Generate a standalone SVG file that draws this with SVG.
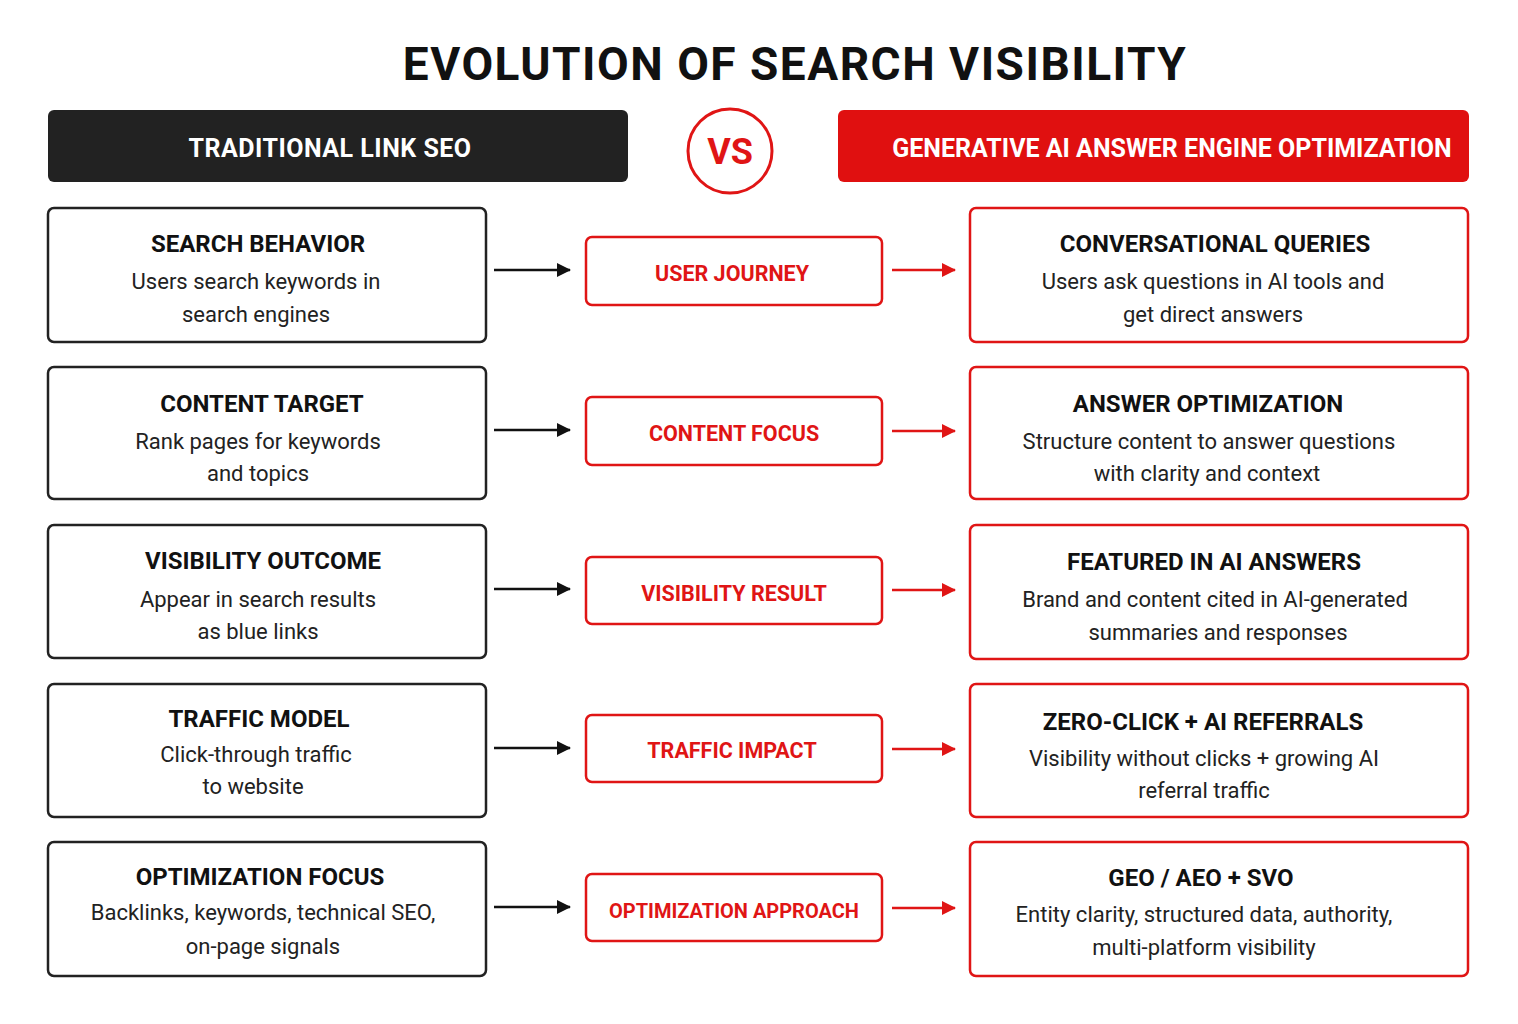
<svg xmlns="http://www.w3.org/2000/svg" width="1518" height="1024" viewBox="0 0 1518 1024">
<defs>
<marker id="ab" markerWidth="16" markerHeight="16" refX="13" refY="7" orient="auto" markerUnits="userSpaceOnUse"><path d="M0,0 L14,7 L0,14 Z" fill="#111"/></marker>
<marker id="ar" markerWidth="16" markerHeight="16" refX="13" refY="7" orient="auto" markerUnits="userSpaceOnUse"><path d="M0,0 L14,7 L0,14 Z" fill="#e01515"/></marker>
<style>
text{font-family:Roboto,"Liberation Sans",sans-serif;text-anchor:middle}
.lb{fill:#fff;stroke:#222;stroke-width:2.5}
.rb{fill:#fff;stroke:#e01515;stroke-width:2.5}
.t{font-size:24px;font-weight:bold;fill:#111}
.b{font-size:22px;fill:#222}
.m{font-size:21.5px;font-weight:bold;fill:#e01515}
.ca{stroke:#111;stroke-width:2.5;marker-end:url(#ab)}
.cr{stroke:#e01515;stroke-width:2.5;marker-end:url(#ar)}
</style>
</defs>
<rect width="1518" height="1024" fill="#fff"/>
<text x="795" y="80" style="font-size:46px;font-weight:bold;fill:#111;letter-spacing:1.5px">EVOLUTION OF SEARCH VISIBILITY</text>
<g id="hdr-left"><rect x="48" y="110" width="580" height="72" rx="6" fill="#222"/><text x="330" y="157" style="font-size:25px;font-weight:bold;fill:#fff;letter-spacing:0.5px">TRADITIONAL LINK SEO</text></g>
<g id="vs"><circle cx="730" cy="151" r="42" fill="#fff" stroke="#e01515" stroke-width="3"/><text x="730" y="164" style="font-size:36px;font-weight:bold;fill:#e01515">VS</text></g>
<g id="hdr-right"><rect x="838" y="110" width="631" height="72" rx="6" fill="#e01010"/><text x="1172" y="157" style="font-size:25px;font-weight:bold;fill:#fff">GENERATIVE AI ANSWER ENGINE OPTIMIZATION</text></g>

<g id="l1"><rect class="lb" x="48" y="208" width="438" height="134" rx="6"/><text class="t" x="258" y="252">SEARCH BEHAVIOR</text><text class="b" x="256" y="289">Users search keywords in</text><text class="b" x="256" y="322">search engines</text></g>
<g id="m1"><rect class="rb" x="586" y="237" width="296" height="68" rx="6"/><text class="m" x="732" y="281">USER JOURNEY</text></g>
<g id="r1"><rect class="rb" x="970" y="208" width="498" height="134" rx="6"/><text class="t" x="1215" y="252">CONVERSATIONAL QUERIES</text><text class="b" x="1213" y="289">Users ask questions in AI tools and</text><text class="b" x="1213" y="322">get direct answers</text></g>

<g id="l2"><rect class="lb" x="48" y="367" width="438" height="132" rx="6"/><text class="t" x="262" y="412">CONTENT TARGET</text><text class="b" x="258" y="449">Rank pages for keywords</text><text class="b" x="258" y="481">and topics</text></g>
<g id="m2"><rect class="rb" x="586" y="397" width="296" height="68" rx="6"/><text class="m" x="734" y="441">CONTENT FOCUS</text></g>
<g id="r2"><rect class="rb" x="970" y="367" width="498" height="132" rx="6"/><text class="t" x="1208" y="412">ANSWER OPTIMIZATION</text><text class="b" x="1209" y="449">Structure content to answer questions</text><text class="b" x="1207" y="481">with clarity and context</text></g>

<g id="l3"><rect class="lb" x="48" y="525" width="438" height="133" rx="6"/><text class="t" x="263" y="569">VISIBILITY OUTCOME</text><text class="b" x="258" y="607">Appear in search results</text><text class="b" x="258" y="639">as blue links</text></g>
<g id="m3"><rect class="rb" x="586" y="557" width="296" height="67" rx="6"/><text class="m" x="734" y="601">VISIBILITY RESULT</text></g>
<g id="r3"><rect class="rb" x="970" y="525" width="498" height="134" rx="6"/><text class="t" x="1214" y="570">FEATURED IN AI ANSWERS</text><text class="b" x="1215" y="607">Brand and content cited in AI-generated</text><text class="b" x="1218" y="640">summaries and responses</text></g>

<g id="l4"><rect class="lb" x="48" y="684" width="438" height="133" rx="6"/><text class="t" x="259" y="727">TRAFFIC MODEL</text><text class="b" x="256" y="762">Click-through traffic</text><text class="b" x="253" y="794">to website</text></g>
<g id="m4"><rect class="rb" x="586" y="715" width="296" height="67" rx="6"/><text class="m" x="732" y="758">TRAFFIC IMPACT</text></g>
<g id="r4"><rect class="rb" x="970" y="684" width="498" height="133" rx="6"/><text class="t" x="1203" y="730">ZERO-CLICK + AI REFERRALS</text><text class="b" x="1204" y="766">Visibility without clicks + growing AI</text><text class="b" x="1204" y="798">referral traffic</text></g>

<g id="l5"><rect class="lb" x="48" y="842" width="438" height="134" rx="6"/><text class="t" x="260" y="885">OPTIMIZATION FOCUS</text><text class="b" x="263" y="920">Backlinks, keywords, technical SEO,</text><text class="b" x="263" y="954">on-page signals</text></g>
<g id="m5"><rect class="rb" x="586" y="874" width="296" height="67" rx="6"/><text class="m" x="734" y="918" style="font-size:20px">OPTIMIZATION APPROACH</text></g>
<g id="r5"><rect class="rb" x="970" y="842" width="498" height="134" rx="6"/><text class="t" x="1201" y="886">GEO / AEO + SVO</text><text class="b" x="1204" y="922">Entity clarity, structured data, authority,</text><text class="b" x="1204" y="955">multi-platform visibility</text></g>

<g id="connectors">
<line class="ca" x1="494" y1="270" x2="570" y2="270"/><line class="cr" x1="892" y1="270" x2="955" y2="270"/>
<line class="ca" x1="494" y1="430" x2="570" y2="430"/><line class="cr" x1="892" y1="431" x2="955" y2="431"/>
<line class="ca" x1="494" y1="589" x2="570" y2="589"/><line class="cr" x1="892" y1="590" x2="955" y2="590"/>
<line class="ca" x1="494" y1="748" x2="570" y2="748"/><line class="cr" x1="892" y1="749" x2="955" y2="749"/>
<line class="ca" x1="494" y1="907" x2="570" y2="907"/><line class="cr" x1="892" y1="908" x2="955" y2="908"/>
</g>
</svg>
